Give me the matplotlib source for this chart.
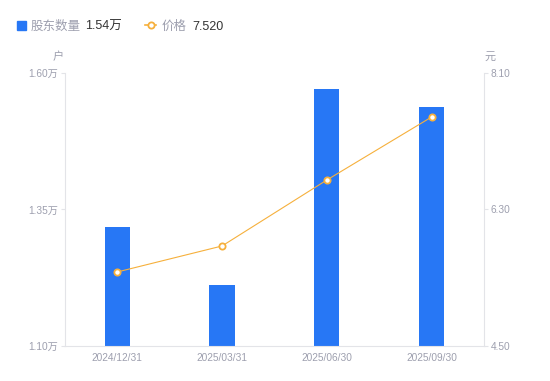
import numpy as np
import matplotlib.pyplot as plt

plt.rcParams['font.family'] = ['Liberation Sans', 'Noto Sans CJK SC', 'DejaVu Sans']

dates = ["2024/12/31", "2025/03/31", "2025/06/30", "2025/09/30"]
holders = [1.318, 1.212, 1.571, 1.538]   # 万户
price = [5.476, 5.819, 6.689, 7.520]     # 元

blue = "#2777f5"
orange = "#f6b03c"
grey = "#9d9fae"
axis_grey = "#e3e4e8"

fig = plt.figure(figsize=(5.5, 3.81), dpi=100)
ax = fig.add_axes([0.118, 0.0919, 0.762, 0.7165])
ax2 = ax.twinx()

x = np.arange(len(dates))
ax.bar(x, holders, width=0.24, color=blue, zorder=2)
ax.set_xlim(-0.5, len(dates) - 0.5)
ax.set_ylim(1.10, 1.60)
ax.set_yticks([1.10, 1.35, 1.60])
ax.set_yticklabels(["1.10万", "1.35万", "1.60万"])
ax.set_xticks(x)
ax.set_xticklabels(dates)

ax2.plot(x, price, color=orange, lw=0.8, marker="o", ms=4.5,
         mfc="white", mec=orange, mew=1.3, zorder=3)
ax2.set_ylim(4.5, 8.1)
ax2.set_yticks([4.5, 6.3, 8.1])
ax2.set_yticklabels(["4.50", "6.30", "8.10"])

for a in (ax, ax2):
    for s in a.spines.values():
        s.set_visible(False)
    a.tick_params(colors=grey, labelsize=7.3, length=3, width=0.8)
    a.tick_params(axis="y", color=axis_grey)
ax.spines["left"].set_visible(True)
ax.spines["left"].set_color(axis_grey)
ax.spines["bottom"].set_visible(True)
ax.spines["bottom"].set_color(axis_grey)
ax2.spines["right"].set_visible(True)
ax2.spines["right"].set_color(axis_grey)
ax.tick_params(axis="x", length=0, pad=5)
ax.tick_params(axis="y", pad=2)
ax2.tick_params(axis="y", pad=2)

fig.text(58 / 550, 1 - 57 / 381, "户", color=grey, fontsize=8, ha="center", va="center")
fig.text(490 / 550, 1 - 57 / 381, "元", color=grey, fontsize=8, ha="center", va="center")

# legend
ly = 1 - 25 / 381
ty = 1 - 26.5 / 381
fig.patches.append(plt.Rectangle((17 / 550, ly - 4.5 / 381), 9 / 550, 9 / 381,
                                 transform=fig.transFigure, color=blue))
fig.text(31 / 550, ty, "股东数量", color=grey, fontsize=9, va="center")
fig.text(85 / 550, ty, "1.54万", color="#333333", fontsize=9, va="center")
fig.lines.append(plt.Line2D([145 / 550, 156 / 550], [ly, ly], transform=fig.transFigure,
                            color=orange, lw=1.2))
fig.lines.append(plt.Line2D([150.5 / 550], [ly], transform=fig.transFigure, marker="o",
                            ms=4.5, mfc="white", mec=orange, mew=1.3, color=orange))
fig.text(162 / 550, ty, "价格", color=grey, fontsize=9, va="center")
fig.text(192 / 550, ty, "7.520", color="#333333", fontsize=9, va="center")

fig.savefig("out.png", dpi=100)
